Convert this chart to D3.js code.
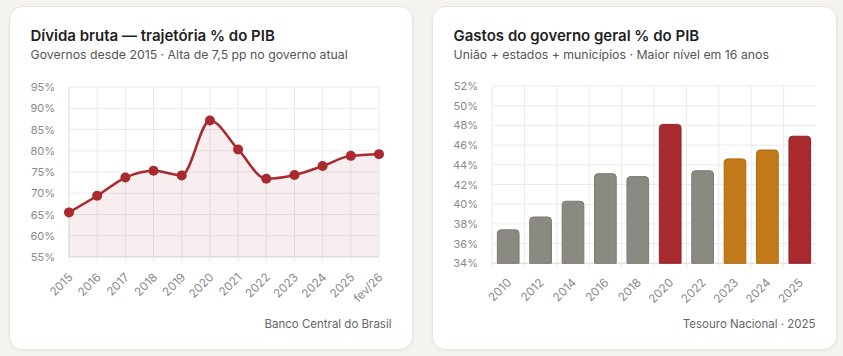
<!DOCTYPE html>
<html><head><meta charset="utf-8">
<script src="https://cdn.jsdelivr.net/npm/d3@7"></script>
<style>
html,body{margin:0;padding:0;background:#f5f3ef;}
svg{display:block;font-family:Inter,"Noto Sans",sans-serif;}
</style></head>
<body><svg id="c" width="843" height="356"></svg>
<script>
// Left chart data
const debtLabels = ["2015","2016","2017","2018","2019","2020","2021","2022","2023","2024","2025","fev/26"];
const debtValues = [65.5,69.4,73.7,75.3,74.2,87.1,80.3,73.4,74.3,76.4,78.8,79.2];
const debtTicks = [55,60,65,70,75,80,85,90,95];
// Right chart data
const spendYears = ["2010","2012","2014","2016","2018","2020","2022","2023","2024","2025"];
const spendValues = [37.4,38.7,40.3,43.1,42.8,48.1,43.4,44.6,45.5,46.9];
const spendGroup = ["g","g","g","g","g","r","g","o","o","r"];
const spendTicks = [34,36,38,40,42,44,46,48,50,52];

const colors = {g:"#8a8a83", r:"#a8292e", o:"#c27a18"};
const strokes = {g:"#7b7b74", r:"#8f2227", o:"#ad6c12"};

const svg = d3.select("#c");
const defs = svg.append("defs");
const f = defs.append("filter").attr("id","sh").attr("x","-5%").attr("y","-5%").attr("width","110%").attr("height","115%");
f.append("feDropShadow").attr("dx",0).attr("dy",1).attr("stdDeviation",1.5).attr("flood-color","#000").attr("flood-opacity",0.06);

function card(x,y,w,h,title,sub,src){
  svg.append("rect").attr("x",x).attr("y",y).attr("width",w).attr("height",h).attr("rx",13)
    .attr("fill","#fff").attr("stroke","#e7e4de").attr("stroke-width",1).attr("filter","url(#sh)");
  svg.append("text").attr("x",x+21).attr("y",y+34).attr("font-size",15).attr("font-weight",600).attr("fill","#1f1f1f").text(title);
  svg.append("text").attr("x",x+21).attr("y",y+52.5).attr("font-size",12.3).attr("fill","#555").text(sub);
  svg.append("text").attr("x",x+w-21).attr("y",y+321).attr("text-anchor","end").attr("font-size",11.5).attr("fill","#666").text(src);
}

card(9.5,6.5,403,343,"Dívida bruta — trajetória % do PIB","Governos desde 2015 · Alta de 7,5 pp no governo atual","Banco Central do Brasil");
card(432.5,6.5,404,343,"Gastos do governo geral % do PIB","União + estados + municípios · Maior nível em 16 anos","Tesouro Nacional · 2025");

const tickFont = g=>g.selectAll("text").attr("font-size",11).attr("fill","#8a8a8a").attr("font-family","Inter,'Noto Sans',sans-serif");

// ---- Left chart ----
const L = {x0:69, x1:379, y0:257, y1:87};
const xL = d3.scalePoint().domain(debtLabels).range([L.x0,L.x1]);
const yL = d3.scaleLinear().domain([55,95]).range([L.y0,L.y1]);
const gL = svg.append("g");
gL.append("g").selectAll("line").data(debtTicks).join("line")
  .attr("x1",L.x0).attr("x2",L.x1).attr("y1",d=>yL(d)).attr("y2",d=>yL(d))
  .attr("stroke","#ebebeb").attr("stroke-width",1);
gL.append("g").selectAll("line").data(debtLabels).join("line")
  .attr("x1",d=>xL(d)).attr("x2",d=>xL(d)).attr("y1",L.y1).attr("y2",L.y0+5)
  .attr("stroke","#ebebeb").attr("stroke-width",1);
gL.append("line").attr("x1",L.x0).attr("x2",L.x1).attr("y1",L.y0).attr("y2",L.y0).attr("stroke","#e0e0e0");
gL.append("line").attr("x1",L.x0).attr("x2",L.x0).attr("y1",L.y1).attr("y2",L.y0).attr("stroke","#e0e0e0");
const yAxL = d3.axisLeft(yL).tickValues(debtTicks).tickFormat(d=>d+"%").tickSize(0).tickPadding(14);
gL.append("g").attr("transform",`translate(${L.x0},0)`).call(yAxL)
  .call(g=>g.select(".domain").remove()).call(tickFont);
const xAxL = d3.axisBottom(xL).tickSize(0).tickPadding(0);
gL.append("g").attr("transform",`translate(0,${L.y0})`).call(xAxL)
  .call(g=>g.select(".domain").remove()).call(tickFont)
  .call(g=>g.selectAll("text").attr("font-size",11.8)
    .attr("text-anchor","end").attr("dy",0).attr("transform","translate(4,21) rotate(-45)"));
const pts = debtLabels.map((l,i)=>({l,v:debtValues[i]}));
const area = d3.area().x(d=>xL(d.l)).y0(yL(55)).y1(d=>yL(d.v)).curve(d3.curveMonotoneX);
const line = d3.line().x(d=>xL(d.l)).y(d=>yL(d.v)).curve(d3.curveMonotoneX);
gL.append("path").attr("d",area(pts)).attr("fill","#a8292e").attr("fill-opacity",0.08);
gL.append("path").attr("d",line(pts)).attr("fill","none").attr("stroke","#a8292e").attr("stroke-width",2.5);
gL.append("g").selectAll("circle").data(pts).join("circle")
  .attr("cx",d=>xL(d.l)).attr("cy",d=>yL(d.v)).attr("r",5).attr("fill","#a8292e");

// ---- Right chart ----
const R = {x0:492, x1:816, y0:263.3, y1:86};
const xR = d3.scaleBand().domain(spendYears).range([R.x0,R.x1]).paddingInner(0.3).paddingOuter(0.15);
const yR = d3.scaleLinear().domain([34,52]).range([R.y0,R.y1]);
const gR = svg.append("g");
gR.append("g").selectAll("line").data(spendTicks).join("line")
  .attr("x1",R.x0).attr("x2",R.x1).attr("y1",d=>yR(d)).attr("y2",d=>yR(d))
  .attr("stroke","#ebebeb");
const step = xR.step();
gR.append("g").selectAll("line").data(spendYears).join("line")
  .attr("x1",d=>xR(d)-step*0.15).attr("x2",d=>xR(d)-step*0.15).attr("y1",R.y1).attr("y2",R.y0+5)
  .attr("stroke","#ebebeb");
gR.append("line").attr("x1",R.x0).attr("x2",R.x1).attr("y1",R.y0).attr("y2",R.y0).attr("stroke","#e0e0e0");
const yAxR = d3.axisLeft(yR).tickValues(spendTicks).tickFormat(d=>d+"%").tickSize(0).tickPadding(14);
gR.append("g").attr("transform",`translate(${R.x0},0)`).call(yAxR)
  .call(g=>g.select(".domain").remove()).call(tickFont);
const xAxR = d3.axisBottom(xR).tickSize(0).tickPadding(0);
gR.append("g").attr("transform",`translate(0,${R.y0})`).call(xAxR)
  .call(g=>g.select(".domain").remove()).call(tickFont)
  .call(g=>g.selectAll("text").attr("font-size",11.8)
    .attr("text-anchor","end").attr("dy",0).attr("transform","translate(4,20) rotate(-45)"));
const bars = spendYears.map((y,i)=>({y,v:spendValues[i],g:spendGroup[i]}));
function topRounded(x,y,w,h,r){
  return `M${x},${y+h}V${y+r}Q${x},${y} ${x+r},${y}H${x+w-r}Q${x+w},${y} ${x+w},${y+r}V${y+h}Z`;
}
gR.append("g").selectAll("path").data(bars).join("path")
  .attr("d",d=>topRounded(xR(d.y)+0.5,yR(d.v),xR.bandwidth()-1,yR(34)-yR(d.v),3.5))
  .attr("fill",d=>colors[d.g]).attr("stroke",d=>strokes[d.g]).attr("stroke-width",1);
</script></body></html>
